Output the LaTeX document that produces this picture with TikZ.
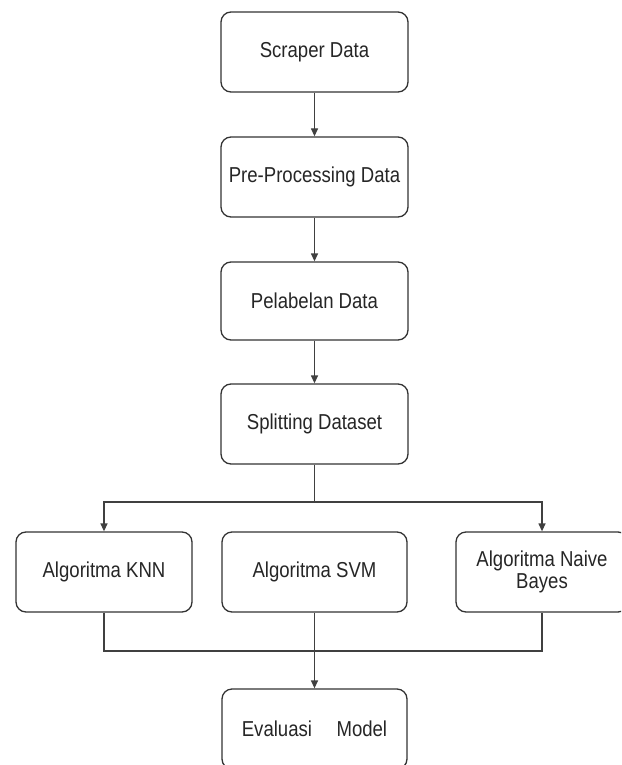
\documentclass[tikz,border=0pt]{standalone}
\usepackage{fontspec}
\setmainfont[FakeStretch=0.86]{Liberation Sans}
\usetikzlibrary{arrows.meta}
\begin{document}
\begin{tikzpicture}[x=1pt,y=-1pt,
  box/.style={draw=black!80, line width=1.3pt, rounded corners=10pt, rectangle,
    minimum height=80pt, inner sep=2pt, align=center,
    font=\fontsize{21.6}{21.7}\selectfont, text=black!85},
  conn/.style={draw=black!75, line width=1.3pt},
  arr/.style={conn, -{Triangle[length=8pt,width=7pt]}}]
\path[use as bounding box, fill=white] (0,0) rectangle (621,765);
\clip (0,0) rectangle (621,765);
\node[box, minimum width=187pt] (scr) at (314.5,52) {Scraper Data};
\node[box, minimum width=187pt] (pre) at (314.5,177) {Pre-Processing Data};
\node[box, minimum width=187pt, minimum height=78pt] (pel) at (314.5,301) {Pelabelan Data};
\node[box, minimum width=187pt] (spl) at (314.5,424) {Splitting Dataset};
\node[box, minimum width=176pt] (knn) at (104,572) {Algoritma KNN};
\node[box, minimum width=185pt] (svm) at (314.5,572) {Algoritma SVM};
\node[box, minimum width=172pt] (nb) at (542,572) {Algoritma Naive\\Bayes};
\node[box, minimum width=185pt] (eva) at (314.5,729) {Evaluasi\hspace{24.5pt}Model};
\coordinate (j1) at (314.5,502);
\coordinate (j2) at (314.5,651);
\draw[arr] (scr) -- (pre);
\draw[arr] (pre) -- (pel);
\draw[arr] (pel) -- (spl);
\draw[conn] (spl.south) -- (j1);
\draw[arr] (j1) -| (knn.north);
\draw[arr] (j1) -| (nb.north);
\draw[conn] (knn.south) |- (j2) -| (nb.south);
\draw[arr] (svm.south) -- (eva.north);
\end{tikzpicture}
\end{document}
